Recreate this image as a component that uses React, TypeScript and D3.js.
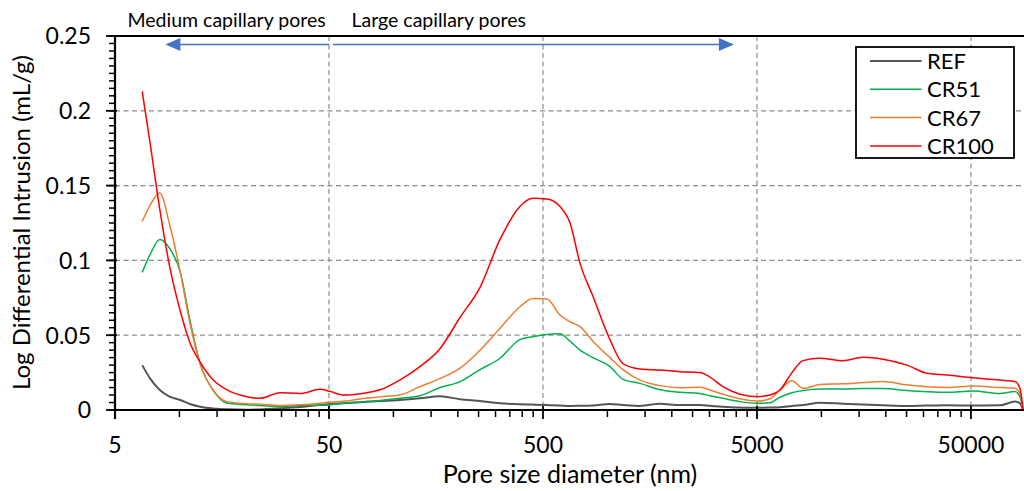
import React from "react";
import * as d3 from "d3";

// Pore size diameter (nm) sampled along the intrusion curves
const diameters = [
  6.7, 7.3, 8.1, 9.0, 10.1, 11.2, 12.5, 14.4, 16.7, 20.7, 23.8, 29.5, 36.6, 45.4, 50.5,
  58.1, 75.3, 86.6, 107, 133, 165, 205, 254, 315, 390, 449, 522, 600, 669, 745, 856,
  1028, 1183, 1420, 1761, 2184, 2707, 3016, 3468, 4165, 5000, 5750, 6405, 7287, 8204,
  9850, 12600, 15600, 19400, 25100, 31200, 38600, 51100, 68300, 80300, 84700, 87500,
];

// Log differential intrusion (mL/g) per mix
const ref = [
  0.030, 0.021, 0.0134, 0.009, 0.0067, 0.004, 0.0022, 0.001, 0.0005, 0.0002, 0.0004, 0.0011,
  0.002, 0.0033, 0.004, 0.0045, 0.0055, 0.006, 0.0067, 0.0078, 0.0092, 0.0072, 0.006, 0.0045,
  0.0038, 0.0036, 0.0033, 0.003, 0.0027, 0.0028, 0.003, 0.004, 0.0033, 0.0027, 0.0042, 0.0033,
  0.0033, 0.0028, 0.0022, 0.0016, 0.0015, 0.0016, 0.0018, 0.0027, 0.0033, 0.0049, 0.0042,
  0.0036, 0.0031, 0.0027, 0.003, 0.0031, 0.003, 0.0031, 0.0056, 0.0045, 0,
];
const cr51 = [
  0.092, 0.104, 0.114, 0.108, 0.092, 0.060, 0.031, 0.013, 0.0047, 0.0035, 0.003, 0.0022, 0.003,
  0.0032, 0.0034, 0.0045, 0.0056, 0.0063, 0.0078, 0.0095, 0.0150, 0.019, 0.027, 0.0346, 0.047,
  0.049, 0.0505, 0.051, 0.046, 0.040, 0.035, 0.029, 0.0205, 0.0178, 0.0135, 0.0118, 0.011,
  0.0095, 0.0078, 0.0056, 0.0045, 0.0049, 0.0085, 0.0115, 0.013, 0.014, 0.014, 0.0143, 0.0143,
  0.013, 0.0122, 0.0118, 0.0127, 0.011, 0.0123, 0.0089, 0,
];
const cr67 = [
  0.126, 0.137, 0.145, 0.124, 0.092, 0.058, 0.031, 0.013, 0.0056, 0.0042, 0.0038, 0.003, 0.0035,
  0.0045, 0.0053, 0.0058, 0.008, 0.0088, 0.010, 0.0156, 0.021, 0.028, 0.040, 0.0546, 0.069,
  0.0745, 0.0742, 0.0635, 0.059, 0.0557, 0.046, 0.035, 0.027, 0.020, 0.0163, 0.0149, 0.0152,
  0.0134, 0.0105, 0.0075, 0.006, 0.0075, 0.0134, 0.0196, 0.0145, 0.017, 0.0175, 0.0183, 0.019,
  0.0168, 0.0155, 0.015, 0.016, 0.015, 0.0145, 0.011, 0,
];
const cr100 = [
  0.213, 0.178, 0.134, 0.096, 0.066, 0.045, 0.032, 0.020, 0.0134, 0.0089, 0.0078, 0.0116, 0.011,
  0.0138, 0.0125, 0.010, 0.0116, 0.0135, 0.020, 0.029, 0.041, 0.062, 0.082, 0.114, 0.136, 0.1415,
  0.141, 0.136, 0.125, 0.098, 0.076, 0.047, 0.031, 0.0274, 0.0267, 0.0256, 0.025, 0.022, 0.0156,
  0.0105, 0.0089, 0.010, 0.0134, 0.025, 0.033, 0.0346, 0.033, 0.0352, 0.0339, 0.030, 0.0245,
  0.0234, 0.0216, 0.020, 0.019, 0.0145, 0,
];

const seriesNames = ["REF", "CR51", "CR67", "CR100"];
const seriesValues = [ref, cr51, cr67, cr100];
const seriesColors = ["#555555", "#00B050", "#ED7D31", "#FF0000"];
const seriesWidths = [2, 1.5, 1.5, 1.5];

const xMajorTicks = [5, 50, 500, 5000, 50000];
const xTickLabels = ["5", "50", "500", "5000", "50000"];
const yMajorTicks = [0, 0.05, 0.1, 0.15, 0.2, 0.25];
const yTickLabels = ["0", "0.05", "0.1", "0.15", "0.2", "0.25"];

// Pore-class ranges marked with arrows above the plot
const mediumRange = [50, 8.6];
const largeRange = [50, 3900];

const FONT = "Lato, 'Noto Sans', sans-serif";

export default function App() {
  const W = 1024;
  const H = 491;
  const x = d3.scaleLog().domain([5, 88000]).range([115, 1023.5]);
  const y = d3.scaleLinear().domain([0, 0.25]).range([410, 36]);
  const x0 = x.range()[0];
  const x1 = x.range()[1];
  const yb = y(0);
  const yt = y(0.25);

  const xMinor: number[] = [];
  for (let dec = 5; dec < 88000; dec *= 10) {
    for (let k = 2; k <= 9; k++) {
      const v = dec * k;
      if (v < 88000) xMinor.push(v);
    }
  }
  const yMinor = d3.range(0, 0.2501, 0.005);

  const line = d3
    .line<[number, number]>()
    .x((d) => x(d[0]))
    .y((d) => y(d[1]))
    .curve(d3.curveMonotoneX);

  const arrowY = 44.5;
  const head = (tipX: number, dir: number) =>
    `M${tipX},${arrowY} L${tipX - dir * 15},${arrowY - 6.5} L${tipX - dir * 15},${arrowY + 6.5} Z`;

  const legendX = 856;
  const legendY = 47;
  const legendRow = 28.3;

  return (
    <svg
      width={W}
      height={H}
      style={{ position: "absolute", left: 0, top: 0, background: "#fff" }}
      fontFamily={FONT}
    >
      <rect width={W} height={H} fill="#fff" />

      {/* grid */}
      {yMajorTicks.slice(1, -1).map((t) => (
        <line key={"gy" + t} x1={x0} x2={x1} y1={y(t)} y2={y(t)} stroke="#8c8c8c" strokeWidth={1.2} strokeDasharray="5,3.5" />
      ))}
      {xMajorTicks.slice(1).map((t) => (
        <line key={"gx" + t} x1={x(t)} x2={x(t)} y1={yt} y2={yb} stroke="#8c8c8c" strokeWidth={1.2} strokeDasharray="5,3.5" />
      ))}

      {/* series */}
      {seriesValues.map((vals, i) => (
        <path
          key={seriesNames[i]}
          d={line(diameters.map((d, j) => [d, vals[j]] as [number, number])) || ""}
          fill="none"
          stroke={seriesColors[i]}
          strokeWidth={seriesWidths[i]}
          strokeLinejoin="round"
        />
      ))}

      {/* frame and axes */}
      <line x1={x0} x2={W} y1={yt} y2={yt} stroke="#000" strokeWidth={2} />
      <line x1={x0} x2={W} y1={yb} y2={yb} stroke="#000" strokeWidth={2.2} />
      <line x1={x0} x2={x0} y1={yt - 1} y2={yb + 9} stroke="#000" strokeWidth={2.2} />

      {xMinor.map((t) => (
        <line key={"xm" + t} x1={x(t)} x2={x(t)} y1={yb} y2={yb + 7} stroke="#000" strokeWidth={1.5} />
      ))}
      {xMajorTicks.map((t) => (
        <line key={"xM" + t} x1={x(t)} x2={x(t)} y1={yb - 4} y2={yb + 9} stroke="#000" strokeWidth={1.8} />
      ))}
      {yMinor.map((t) => (
        <line key={"ym" + t} x1={x0 - 6} x2={x0} y1={y(t)} y2={y(t)} stroke="#000" strokeWidth={1.5} />
      ))}
      {yMajorTicks.map((t) => (
        <line key={"yM" + t} x1={x0 - 9} x2={x0 + 2} y1={y(t)} y2={y(t)} stroke="#000" strokeWidth={1.8} />
      ))}

      {/* tick labels */}
      {yMajorTicks.map((t, i) => (
        <text key={"yl" + t} x={91} y={y(t) + 8.3} textAnchor="end" fontSize={23} fill="#000">
          {yTickLabels[i]}
        </text>
      ))}
      {xMajorTicks.map((t, i) => (
        <text key={"xl" + t} x={x(t)} y={453} textAnchor="middle" fontSize={23} fill="#000">
          {xTickLabels[i]}
        </text>
      ))}

      {/* axis titles */}
      <text x={570} y={483} textAnchor="middle" fontSize={25} fill="#000">
        Pore size diameter (nm)
      </text>
      <text transform="translate(30,222.5) rotate(-90)" textAnchor="middle" fontSize={24} fill="#000">
        Log Differential Intrusion (mL/g)
      </text>

      {/* pore class annotations */}
      <text x={127.5} y={26.7} fontSize={19.5} fill="#000">
        Medium capillary pores
      </text>
      <text x={351.5} y={26.7} fontSize={19.5} fill="#000">
        Large capillary pores
      </text>
      <line x1={x(mediumRange[0])} x2={x(mediumRange[1]) + 10} y1={arrowY} y2={arrowY} stroke="#4472C4" strokeWidth={1.5} />
      <path d={head(x(mediumRange[1]), -1)} fill="#4472C4" />
      <line x1={x(largeRange[0]) + 4} x2={x(largeRange[1]) - 10} y1={arrowY} y2={arrowY} stroke="#4472C4" strokeWidth={1.5} />
      <path d={head(x(largeRange[1]), 1)} fill="#4472C4" />

      {/* legend */}
      <rect x={legendX} y={legendY} width={158} height={111} fill="#fff" stroke="#000" strokeWidth={1.8} />
      {seriesNames.map((name, i) => {
        const cy = legendY + 14 + i * legendRow;
        return (
          <g key={"lg" + name}>
            <line x1={870} x2={921.5} y1={cy} y2={cy} stroke={seriesColors[i]} strokeWidth={seriesWidths[i]} />
            <text x={927} y={cy + 8} fontSize={22} fill="#000">
              {name}
            </text>
          </g>
        );
      })}
    </svg>
  );
}
